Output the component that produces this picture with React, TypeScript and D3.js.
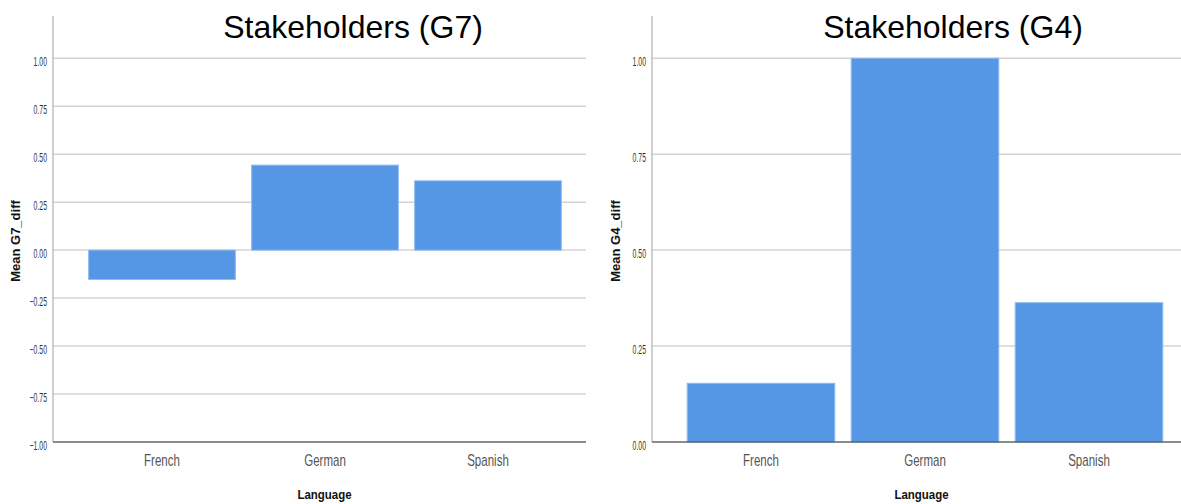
import React from "react";
import * as d3 from "d3";

const categories = ["French", "German", "Spanish"];
const g7Values = [-0.153, 0.443, 0.361];
const g4Values = [0.153, 1.0, 0.363];
const g7Ticks = [-1, -0.75, -0.5, -0.25, 0, 0.25, 0.5, 0.75, 1];
const g4Ticks = [0, 0.25, 0.5, 0.75, 1];
const titles = ["Stakeholders (G7)", "Stakeholders (G4)"];
const yLabels = ["Mean G7_diff", "Mean G4_diff"];
const xLabel = "Language";

const BAR = "#5596e5";
const BAR_EDGE = "#8fbbef";
const GRID = "#d4d4d4";
const FONT = "'Liberation Sans', Arial, sans-serif";

type PanelProps = {
  values: number[];
  ticks: number[];
  domain: [number, number];
  axisX: number;
  plotRight: number;
  bandRange: [number, number];
  title: string;
  titleX: number;
  yLabel: string;
  yLabelX: number;
};

function Panel(p: PanelProps) {
  const top = 16;
  const bottom = 442;
  const y = d3.scaleLinear().domain(p.domain).range([bottom, top]);
  const x = d3
    .scaleBand<string>()
    .domain(categories)
    .range(p.bandRange)
    .paddingInner(0.1)
    .paddingOuter(0.05);
  const fmt = d3.format(".2f");
  const xCenter = (p.axisX + p.plotRight) / 2;
  return (
    <g>
      {p.ticks.map((t) => (
        <line
          key={"g" + t}
          x1={p.axisX}
          x2={p.plotRight}
          y1={y(t)}
          y2={y(t)}
          stroke={GRID}
          strokeWidth={1.5}
        />
      ))}
      {p.ticks.map((t) => (
        <g key={"t" + t} transform={`translate(${p.axisX - 6},${y(t) + 7.5}) scale(0.55,1)`}>
          <text textAnchor="end" fontFamily={FONT} fontSize={12.5} fill="#333">
            {fmt(t)}
          </text>
        </g>
      ))}
      {categories.map((c, i) => {
        const v = p.values[i];
        const y1 = y(Math.max(0, v));
        const y2 = y(Math.min(0, v));
        return (
          <rect
            key={c}
            x={x(c)}
            y={y1}
            width={x.bandwidth()}
            height={y2 - y1}
            fill={BAR}
            stroke={BAR_EDGE}
            strokeWidth={1}
          />
        );
      })}
      <line x1={p.axisX} x2={p.axisX} y1={top} y2={bottom} stroke="#b0b0b0" strokeWidth={1.2} />
      <line x1={p.axisX} x2={p.plotRight} y1={bottom} y2={bottom} stroke="#3a3a3a" strokeWidth={1.2} />
      {categories.map((c) => (
        <g key={"c" + c} transform={`translate(${(x(c) as number) + x.bandwidth() / 2},466) scale(0.72,1)`}>
          <text textAnchor="middle" fontFamily={FONT} fontSize={16} fill="#555">
            {c}
          </text>
        </g>
      ))}
      <g transform={`translate(${xCenter + 5},499) scale(0.85,1)`}>
        <text textAnchor="middle" fontFamily={FONT} fontSize={13.5} fontWeight="bold" fill="#111">
          {xLabel}
        </text>
      </g>
      <text
        transform={`translate(${p.yLabelX},${(top + bottom) / 2 + 12}) rotate(-90)`}
        textAnchor="middle"
        fontFamily={FONT}
        fontSize={13}
        fontWeight="bold"
        fill="#111"
      >
        {p.yLabel}
      </text>
      <text x={p.titleX} y={38} textAnchor="middle" fontFamily={FONT} fontSize={32} fill="#000">
        {p.title}
      </text>
    </g>
  );
}

export default function App() {
  return (
    <svg
      width={1181}
      height={504}
      style={{ position: "absolute", left: 0, top: 0, background: "#fff" }}
    >
      <rect width={1181} height={504} fill="#fff" />
      <Panel
        values={g7Values}
        ticks={g7Ticks}
        domain={[-1, 1.22]}
        axisX={53}
        plotRight={586}
        bandRange={[80.5, 569.5]}
        title={titles[0]}
        titleX={353}
        yLabel={yLabels[0]}
        yLabelX={20}
      />
      <Panel
        values={g4Values}
        ticks={g4Ticks}
        domain={[0, 1.11]}
        axisX={652}
        plotRight={1181}
        bandRange={[679, 1171]}
        title={titles[1]}
        titleX={953}
        yLabel={yLabels[1]}
        yLabelX={620}
      />
    </svg>
  );
}
